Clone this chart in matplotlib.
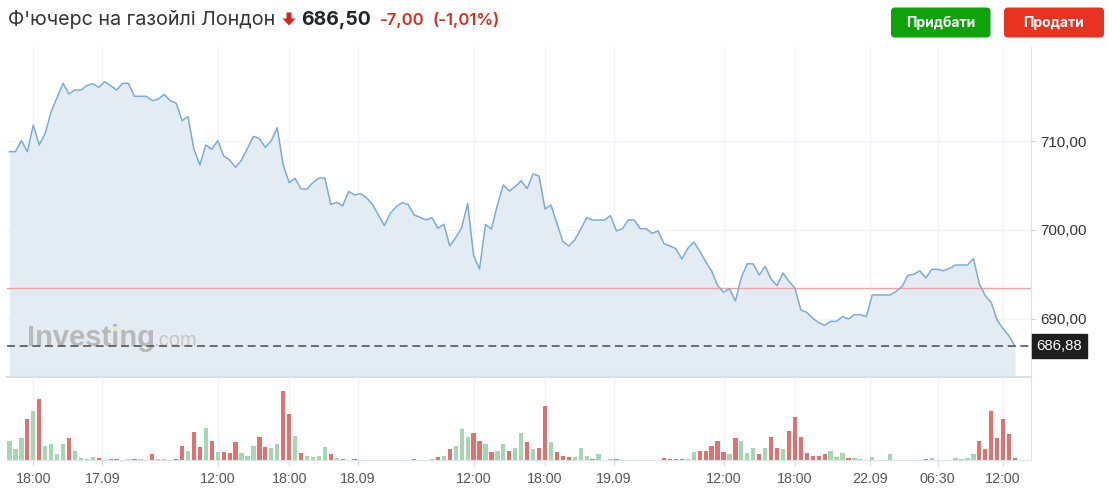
import matplotlib.pyplot as plt
from matplotlib.patches import FancyBboxPatch, Polygon
from matplotlib.ticker import FuncFormatter
from matplotlib.transforms import Affine2D, blended_transform_factory, offset_copy

W, H = 1112, 493

# --- data: 30-min bars, gasoil futures London ---
price = [
    708.83, 708.83, 710.08, 708.83, 711.84, 709.59, 710.90, 713.35, 714.96, 716.54,
    715.34, 715.79, 715.79, 716.28, 716.50, 716.09, 716.73, 716.28, 715.79, 716.54,
    716.54, 715.08, 715.08, 715.08, 714.59, 714.77, 715.30, 714.59, 714.32, 712.33,
    712.78, 709.10, 707.33, 709.59, 709.10, 710.08, 708.35, 707.89, 707.07, 707.89,
    709.21, 710.56, 710.30, 709.32, 710.08, 711.54, 707.33, 705.34, 705.83, 704.62,
    704.62, 705.34, 705.86, 705.86, 702.89, 703.12, 702.71, 704.36, 703.95, 704.10,
    703.65, 702.89, 701.69, 700.49, 701.88, 702.63, 703.08, 702.89, 701.69, 701.43,
    701.13, 701.39, 700.19, 700.64, 698.20, 699.14, 700.26, 703.01, 697.11, 695.60,
    700.64, 700.11, 702.82, 705.08, 704.40, 704.89, 705.56, 704.66, 706.32, 706.09,
    702.37, 702.82, 700.75, 698.68, 698.20, 698.87, 700.08, 701.39, 701.13, 701.13,
    701.13, 701.62, 699.89, 700.15, 701.13, 701.13, 700.15, 700.15, 699.62, 699.89,
    698.46, 698.20, 697.89, 696.73, 697.93, 698.65, 697.63, 696.43, 695.38, 693.76,
    692.97, 693.38, 691.99, 694.66, 696.20, 696.17, 694.92, 695.90, 694.47, 693.72,
    695.15, 694.21, 693.46, 690.98, 690.71, 690.04, 689.55, 689.25, 689.70, 689.70,
    690.23, 689.96, 690.45, 690.45, 690.23, 692.67, 692.67, 692.67, 692.67, 693.08,
    693.61, 694.89, 695.00, 695.41, 694.59, 695.56, 695.56, 695.41, 695.68, 696.05,
    696.05, 696.05, 696.77, 693.91, 692.59, 691.80, 689.81, 688.87, 688.05, 686.88,
]
volume = [
    193, 107, 220, 407, 493, 607, 143, 157, 57, 157,
    220, 93, 20, 10, 30, 20, 0, 10, 10, 0,
    10, 10, 10, 0, 57, 10, 10, 0, 10, 143,
    93, 280, 133, 320, 193, 80, 80, 70, 180, 70,
    43, 143, 230, 130, 120, 157, 693, 457, 243, 70,
    43, 30, 43, 130, 57, 20, 10, 0, 10, 0,
    0, 0, 0, 0, 0, 0, 0, 0, 10, 0,
    0, 10, 33, 43, 107, 143, 307, 230, 267, 193,
    157, 80, 93, 157, 93, 120, 267, 180, 107, 120,
    543, 180, 80, 43, 30, 30, 120, 43, 10, 57,
    0, 10, 10, 0, 0, 0, 0, 0, 0, 0,
    20, 10, 10, 10, 10, 80, 93, 93, 143, 193,
    80, 57, 220, 193, 70, 120, 57, 120, 230, 120,
    107, 293, 433, 230, 70, 43, 43, 57, 93, 30,
    70, 20, 20, 10, 0, 30, 0, 0, 57, 0,
    0, 0, 0, 0, 10, 20, 0, 0, 0, 20,
    10, 20, 57, 193, 107, 493, 220, 407, 257, 20,
]
# g = up bar, r = down bar
vol_dir = ("gggrgrgggg" "rggggrgrrg" "grggrgggrr" "grrgrgrrrg" "ggrrggrrgr"
           "ggggrgrgrg" "ggggggggrg" "ggrgrgggrr" "grggrggrgr" "rgrrrgggrg"
           "ggrggggggg" "rrrrggrrrr" "rgrgggrgrr" "grrrrrrrgg" "grgggggggg"
           "ggggrggggg" "gggrrrrrrr")

tick_pos = [4, 15.6, 35, 47, 58.5, 78, 90, 101.6, 120, 132, 144.6, 156, 167]
tick_labels = ["18:00", "17.09", "12:00", "18:00", "18.09", "12:00", "18:00",
               "19.09", "12:00", "18:00", "22.09", "06:30", "12:00"]
price_ticks = [690, 700, 710]
last_price = 686.88
prev_close = 693.50

title = "Ф'ючерс на газойлі Лондон"
quote = "686,50"
change = "-7,00"
change_pct = "(-1,01%)"

LINE = "#7aacd6"
FILL = "#e4ecf3"
RED = "#e46f6f"
GREEN = "#a5d7b3"
GRID = "#f1f3f6"
BORDER = "#d8dfe7"
HEAD_FONT = ["Inter", "DejaVu Sans"]

plt.rcParams["font.family"] = ["Liberation Sans", "DejaVu Sans"]

fig = plt.figure(figsize=(W / 100, H / 100), dpi=100)
px = Affine2D().scale(1.0 / W, -1.0 / H).translate(0, 1) + fig.transFigure


def px_axes(left, top, right, bottom):
    return fig.add_axes([left / W, 1 - bottom / H, (right - left) / W, (bottom - top) / H])


x = list(range(len(price)))
xlim = (-0.42, 171.63)

# --- price panel ---
ax = px_axes(7, 47, 1030.7, 377)
ax.set_xlim(*xlim)
ax.set_ylim(683.42, 720.64)
ax.fill_between(x, price, 683.42, color=FILL, lw=0, zorder=1)
ax.plot(x, price, color=LINE, lw=1.1, zorder=3)
ax.axhline(prev_close, color="#f4a3a3", lw=1.0, zorder=2.5)
ax.axhline(last_price, color="#555555", lw=1.2, dashes=(4.8, 2.8), zorder=4)

ax.set_xticks(tick_pos)
ax.set_yticks(price_ticks)
ax.grid(True, color=GRID, lw=1.0, zorder=0)
ax.set_axisbelow(True)
ax.tick_params(axis="x", length=0, labelbottom=False)
ax.yaxis.tick_right()
ax.yaxis.set_major_formatter(FuncFormatter(lambda v, p: f"{v:.2f}".replace(".", ",")))
ax.tick_params(axis="y", length=3, color="#cccccc", pad=4, labelsize=10.8, labelcolor="#333333")
for s in ["left", "top"]:
    ax.spines[s].set_visible(False)
ax.spines["right"].set_color("#dde3ea")
ax.spines["bottom"].set_color(BORDER)
ax.spines["bottom"].set_linewidth(1.6)

# last price tag
tr = offset_copy(blended_transform_factory(ax.transAxes, ax.transData), fig=fig, x=6, y=0, units="dots")
ax.text(1.0, last_price, "686,88", transform=tr, ha="left", va="center", color="white",
        fontsize=10.8, clip_on=False,
        bbox=dict(boxstyle="square,pad=0.33", fc="#1f1f1f", ec="#1f1f1f"))

# watermark
ax.text(27, 346.5, "Investing", transform=px, fontsize=21, fontweight="bold",
        color="#b9b9b9", ha="left", va="baseline", zorder=2)
ax.text(153, 346.5, ".com", transform=px, fontsize=14.5, color="#c6c6c6",
        ha="left", va="baseline", zorder=2)
ax.add_artist(Polygon([(113, 331), (118, 324), (118, 331)], closed=True, transform=px,
                      fc="#efe6b8", ec="none", zorder=2))

# --- volume panel ---
ax2 = px_axes(7, 378, 1030.7, 460)
ax2.set_xlim(*xlim)
ax2.set_ylim(0, 820)
ax2.bar(x, volume, width=0.72, color=[GREEN if c == "g" else RED for c in vol_dir], lw=0, zorder=2)
ax2.set_xticks(tick_pos)
ax2.set_xticklabels(tick_labels)
ax2.set_yticks([])
ax2.grid(True, axis="x", color=GRID, lw=1.0, zorder=0)
ax2.set_axisbelow(True)
ax2.tick_params(axis="x", length=4.3, color="#d5dbe2", pad=4.5, labelsize=10.3, labelcolor="#555555")
for s in ["left", "top"]:
    ax2.spines[s].set_visible(False)
ax2.spines["right"].set_color("#dde3ea")
ax2.spines["bottom"].set_color("#dde3ea")

# --- header ---
fig.text(8, 25, title, transform=px, fontsize=14.2, color="#333333", ha="left", va="baseline",
         family=HEAD_FONT)
fig.add_artist(Polygon([(286.5, 12.5), (291.5, 12.5), (291.5, 18.5), (295.5, 18.5),
                        (289, 25.5), (282.5, 18.5), (286.5, 18.5)],
                       closed=True, transform=px, fc="#d9251c", ec="none"))
fig.text(301, 25, quote, transform=px, fontsize=14, fontweight="bold", color="#232526",
         ha="left", va="baseline", family=HEAD_FONT)
fig.text(380, 25, change, transform=px, fontsize=12, fontweight="semibold", color="#dd2a1b",
         ha="left", va="baseline", family=HEAD_FONT)
fig.text(432, 25, change_pct, transform=px, fontsize=12, fontweight="semibold", color="#dd2a1b",
         ha="left", va="baseline", family=HEAD_FONT)

for x0, w, col, label in [(891, 99.5, "#0ea20b", "Придбати"), (1004, 100, "#ea3222", "Продати")]:
    fig.add_artist(FancyBboxPatch((x0, 7.5), w, 30, boxstyle="round,pad=0,rounding_size=4",
                                  transform=px, fc=col, ec="none"))
    fig.text(x0 + w / 2, 23, label, transform=px, fontsize=10, fontweight="bold",
             color="white", ha="center", va="center", family=HEAD_FONT)

fig.savefig("out.png", dpi=100)
